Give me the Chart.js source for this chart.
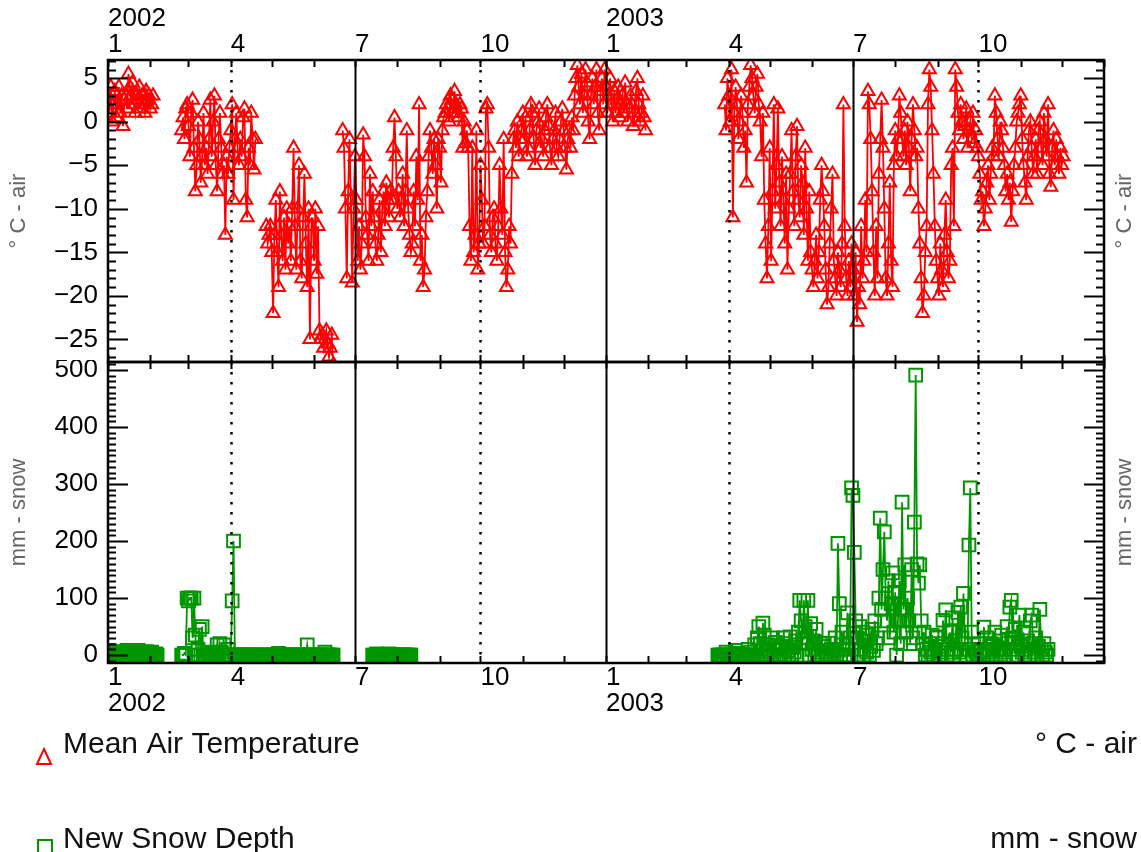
<!DOCTYPE html>
<html>
<head>
<meta charset="utf-8">
<title>Mean Air Temperature / New Snow Depth</title>
<script src="https://cdn.jsdelivr.net/npm/chart.js"></script>
<style>
  body { margin: 0; background: #fff; }
  #wrap { position: relative; width: 1141px; height: 852px; overflow: hidden; }
  canvas { position: absolute; left: 0; }
  #tempChart { top: 0; }
  #snowChart { top: 360px; }
</style>
</head>
<body>
<div id="wrap">
  <canvas id="tempChart" width="1141" height="364"></canvas>
  <canvas id="snowChart" width="1141" height="492"></canvas>
</div>
<script>
// x axis = days since 1 Jan 2002
const monthTicks = [0, 31, 59, 90, 120, 151, 181, 212, 243, 273, 304, 334,
  365, 396, 424, 455, 485, 516, 546, 577, 608, 638, 669, 699, 730];
const yearLabels = ["2002", "2003"];
const tempTicks = [-25, -20, -15, -10, -5, 0, 5];
const snowTicks = [0, 100, 200, 300, 400, 500];

// daily mean air temperature (deg C), one array per run of data
const tempStarts = [0, 54, 116, 172, 452];
const tempSeg1 = [3, 1, 4, 0, 2, 3.5, 0.5, 2, 4, 1, 3, -0.5, 2.5, 3, 1.5, 5.5, 4, 3, 4.5, 2,
  1, 3, 2.5, 4, 1.5, 3, 2, 1, 3.5, 2.5, 3, 1.5, 2, 3];
const tempSeg2 = [-1, 0.5, -2, 1.5, 2, -0.5, -4, 1, 2.5, -3, -8, -5, 0, -2, -7, -4, 1, -5, -3, -6,
  -2, 2.5, -4, 0, 3, -5, -8, -2, 1, -3, -6, -5, -13, -4, -6, -3, -1, 2, -9, -2,
  1, -3, -5, -2, -4, 0.5, 1.5, -9, -11, -3, -5, 1, -2, -5.5, -2];
const tempSeg3 = [-12, -14, -13, -12, -15, -22, -13, -9, -15, -19, -8, -13, -16, -11, -17, -10,
  -14, -12, -16, -10, -3, -12, -17, -10, -5, -16, -18, -11, -6, -14, -19, -10, -25, -12, -11,
  -16, -10, -17.5, -12, -24, -25, -24.5, -26, -25, -24, -25.5, -27, -26, -24.5, -28];
const tempSeg4 = [-1, -3, -10, -18, -8, -2, -9, -18.5, -10, -4,
  -9, -16, -12, -17, -14, -1.5, -4, -11, -13, -16, -6, -12,
  -8, -11, -14, -16, -13, -9, -15, -10, -8, -12, -7, -9, -11, -8,
  -9, -3, 0.5, -4, -10, -8, -11, -9, -6, -12, -8, -1, -10, -13,
  -15, -14, -8, -12, -4, -9, 2, -16, -13, -19, -17, -11,
  -8, -4, -1, -3, -6, -2, -5, -10, -2, -3, -7, -1,
  0.5, 1, 2, 1.5, 0, 3, 2.5, 1, 3.5, 2, 1, 0.5, 2, 1.5, -3, 0, -2.5, -1, -3,
  -12, -16, -3, -15, -13, -1, -17, -14, -5,
  -9, -14, -12, 1.5, 2, -3, -13, -15, -11, -10, -14, -16, -12, -5, -10, -13, -2,
  -15, -19, -17, -12, -14, -6, -2, -1, -3, 0, -4, -2,
  -1, 1, -2, 0.5, -4, -3, -1, 2, 1, -2, -5, -1, 0, 1.5, -3, -2, -4, -1, 0.5, 2,
  -0.5, -3, -5, -2, -1, 1, -3, -4, -2, 0, 1.5, -1, -3, -5.5, -2, -1, -3, 0.5, -1,
  3, 5, 6.5, 4, 2, 5.5, 1, 3, 6, 4.5, 0, -2, 3, 5, 2, 4, 6, 1, -1, 3.5, 5, 2,
  6, 4, 1, 3, 5, 2, 0, 3.5, 1, 2.5, 4, 0.5, 2, 3, 1, 4.5, 2, 0, 1.5, 3,
  2, -0.5, 1, 3.5, 5, 2, 0, 1, 3, 0.5, -1];
const tempSeg5 = [2, -1, 5, 3, 0, 6, -11, 1, 4, 2, -2, 0, 3, 1,
  -3, -1, -7, 2, 4, 6.5, 5, 3, 1, 4, 5.5, 2, 0, -4, 1,
  -9, -14, -18, -12, -3, -16, -8, 2, -10, -5, 1.5, -7, -12, -4, -9, -14, -6, -17,
  -10, -6, -1, -8, -12, -4, -0.5, -9, -11, -5, -7, -13, -3, -10, -16, -8,
  -15, -17, -19, -16, -13, -18, -15, -9, -5, -8, -12, -17, -21, -19, -14, -10, -6, -16, -18, -20, -15, -17, -19,
  -14, 2, -12, -18, -20, -16, -19, -14,
  -17, -20, -15, -23, -19, -21, -12, -18, -16, -9, -15,
  3.5, 2, -2, -8, -15, -20, -12, -18, -6, -2,
  2.5, -3, -10, -18, -20, -14, -7, -16, -19, -5, -1, -4, -2, 3,
  1, -2, -4, -1, -5, 0, -3, -8, -2, 2, -1, -4, -3,
  -10, -14, -18, -22, -20, -15, -12, 2, 6, 4, -1, -6, -12,
  -16, -18, -20, -14, -17, -19, -13, -9, -15, -18, -16, -5, -3, -12, 6, 4,
  1, -1, 2, 0, -2, -0.5, 1.5, -3, -1, 0, -2, 1, -2.5, -1, -3,
  -4, -6, -9, -8, -12, -10, -7, -5, -9, -6, -3, -4,
  3, 1, -2, -4, 0, -1, -3,
  -5, -8, -6, -9, -7, -11.5, -8, -5, -3, 0,
  1, 2, 3, -2, -5, -7, -9, -4, -1, 0, -3, -6,
  -4, -2, -6, -1, 0, -3, -5, 1, -2, -4, 2, -6, -7.5, -3, -1, -5, -2, -4, -6, -3, -5, -4];

// daily new snow depth (mm)
const snowStarts = [0, 54, 114, 194, 447];
const snowSeg1 = [5, 8, 3, 0, 6, 2, 0, 4, 0, 0, 5, 0, 0, 3, 8, 8, 6, 2, 0, 0,
  4, 7, 8, 5, 3, 0, 0, 2, 6, 0, 0, 3, 5, 0, 0, 2, 0];
const snowSeg2 = [0, 0, 3, 0, 100, 95, 100, 100, 30, 100, 35, 0, 10, 45, 0, 50, 0,
  0, 0, 5, 0, 0, 0, 3, 0, 0, 18, 0, 20, 5, 0, 18, 0, 0, 10, 0, 0, 95, 200, 0,
  0, 0, 0, 0, 0, 0, 0, 0, 0, 0, 0, 0, 0, 0, 0, 0, 0];
const snowSeg3 = [0, 0, 0, 0, 0, 0, 0, 0, 0, 0, 0, 3, 0, 0, 0, 0, 0, 0, 0, 0, 0, 0, 0, 0, 0, 0,
  0, 0, 0, 0, 0, 0, 18, 0, 0, 0, 0, 0, 0, 0, 0, 0, 0, 0, 0, 5, 0, 0, 0, 0, 0, 0];
const snowSeg4 = [0, 0, 0, 2, 0, 0, 0, 0, 0, 0, 0, 0, 2, 0, 0, 0, 0, 0, 0, 0, 0, 0, 0, 0, 0, 0, 0, 0, 0];
const snowSeg5 = [0, 0, 0, 0, 0, 0, 5, 0, 0, 0, 0, 0, 0, 8, 3, 0, 0, 0, 0, 0,
  0, 0, 10, 0, 5, 0, 0, 18, 0,
  30, 50, 20, 0, 56, 35, 10, 0, 18, 5, 0, 30, 0, 22, 10, 0, 15, 0,
  15, 30, 0, 20, 8, 0, 32, 0, 14, 5, 25, 0,
  40, 96, 60, 20, 96, 50, 30, 96, 0, 55, 10, 25, 0, 45, 0, 5, 20, 0, 15,
  20, 0, 5, 21, 0, 0, 10, 0, 30, 0,
  196, 90, 0, 40, 10, 0, 20, 74, 0, 30, 293, 280, 180, 60,
  30, 0, 50, 10, 40, 0, 25, 5, 35, 0, 15, 45, 8, 60, 20, 30, 100, 240,
  80, 150, 216, 100, 60, 130, 30, 90, 144, 40, 110, 0, 60, 130, 20, 268, 80, 158, 40, 100,
  60, 20, 150, 30, 233, 491, 160,
  126, 158, 60, 20, 40, 0, 10,
  0, 20, 5, 35, 0, 10, 30, 32, 0, 15, 5, 61, 20, 79, 0, 10, 40, 5, 65, 0,
  25, 10, 75, 5, 84, 30, 108, 20, 0, 10, 193, 293, 40, 0, 10, 5, 0, 20, 0, 8,
  0, 49, 10, 30, 0, 5, 20, 0, 15, 40, 0, 10, 25, 0, 35, 5, 10, 0, 50, 20,
  84, 96, 30, 10, 45, 0, 20, 70, 15, 5, 40, 0, 10, 25, 0, 60, 70, 20, 5, 30,
  0, 15, 80, 10, 0, 20, 5, 0, 10];

const tempColor = "#ff0000";
const snowColor = "#009600";
const fontFamily = "'Liberation Sans', Arial, sans-serif";
Chart.defaults.font.family = fontFamily;

function toPoints(starts, segs) {
  const pts = [];
  segs.forEach((seg, k) => {
    if (k) pts.push({x: starts[k] - 0.5, y: null}); // break the line between runs
    seg.forEach((v, i) => pts.push({x: starts[k] + i, y: v}));
  });
  return pts;
}

function monthLabel(value, bottom) {
  const i = monthTicks.indexOf(value);
  if (i < 0 || i % 3 !== 0 || i === monthTicks.length - 1) return "";
  const m = String(i % 12 + 1);
  if (i % 12 !== 0) return m;
  const yr = yearLabels[i / 12];
  return bottom ? [m, yr] : [yr, m];
}

function line(ctx, x1, y1, x2, y2) {
  ctx.beginPath(); ctx.moveTo(x1, y1); ctx.lineTo(x2, y2); ctx.stroke();
}

// IDL style frame: inward ticks, month lines, right-hand title, legend
const idlFrame = {
  id: "idlFrame",
  afterDatasetsDraw(chart, args, o) {
    const {ctx, chartArea: a} = chart;
    const xs = chart.scales.x, ys = chart.scales.y;
    ctx.save();
    ctx.strokeStyle = "#000";
    monthTicks.forEach((d, i) => {
      const px = Math.round(xs.getPixelForValue(d)) + 0.5;
      const m = i % 12;
      if (i > 0 && i < monthTicks.length - 1) {
        if (m === 0 || m === 6) {
          ctx.lineWidth = 2; ctx.setLineDash([]);
          line(ctx, px, a.top, px, a.bottom);
        } else if (m === 3 || m === 9) {
          ctx.lineWidth = 2.5; ctx.setLineDash([2.5, 7.5]);
          line(ctx, px, a.top, px, a.bottom);
        }
      }
      ctx.lineWidth = 2; ctx.setLineDash([]);
      line(ctx, px, a.top, px, a.top + 7);
      line(ctx, px, a.bottom, px, a.bottom - 7);
    });
    ctx.lineWidth = 2;
    for (let v = Math.ceil(ys.min / o.minor) * o.minor; v <= ys.max; v += o.minor) {
      const py = Math.round(ys.getPixelForValue(v)) + 0.5;
      const len = Math.abs(v % o.major) < 1e-6 ? 20 : 8;
      line(ctx, a.left, py, a.left + len, py);
      line(ctx, a.right, py, a.right - len, py);
    }
    ctx.lineWidth = 2.5;
    ctx.strokeRect(a.left, a.top, a.right - a.left, a.bottom - a.top);

    ctx.fillStyle = "#666";
    ctx.font = "22px " + fontFamily;
    ctx.textAlign = "center"; ctx.textBaseline = "middle";
    ctx.translate(1125, (a.top + a.bottom) / 2);
    ctx.rotate(-Math.PI / 2);
    ctx.fillText(o.title, 0, 0);
    ctx.restore();
  },
  afterDraw(chart, args, o) {
    if (!o.legend) return;
    const ctx = chart.ctx;
    ctx.save();
    o.legend.forEach(it => {
      ctx.strokeStyle = it.color; ctx.lineWidth = 2;
      ctx.beginPath();
      if (it.style === "triangle") {
        ctx.moveTo(44, it.y - 4); ctx.lineTo(51, it.y + 11); ctx.lineTo(37, it.y + 11); ctx.closePath();
      } else {
        ctx.rect(38, it.y - 8, 14, 14);
      }
      ctx.stroke();
      ctx.fillStyle = "#111";
      ctx.font = "30px " + fontFamily;
      ctx.textBaseline = "alphabetic";
      ctx.textAlign = "left"; ctx.fillText(it.label, 63, it.y);
      ctx.textAlign = "right"; ctx.fillText(it.unit, 1137, it.y);
    });
    ctx.restore();
  }
};

function noPad(s) { s.paddingLeft = 0; s.paddingRight = 0; s.paddingTop = 0; s.paddingBottom = 0; }

function xScale(bottom) {
  return {
    type: "linear", position: bottom ? "bottom" : "top", min: 0, max: 730,
    afterBuildTicks: s => { s.ticks = monthTicks.map(v => ({value: v})); },
    afterFit: s => { s.height = 60; noPad(s); },
    grid: {display: false, drawTicks: false}, border: {display: false},
    ticks: {align: "start", padding: 2, autoSkip: false, maxRotation: 0, color: "#000",
      font: {size: 26, lineHeight: 1.0}, callback: v => monthLabel(v, bottom)}
  };
}

function yScale(min, max, ticks, title) {
  return {
    type: "linear", min: min, max: max,
    afterBuildTicks: s => { s.ticks = ticks.map(v => ({value: v})); },
    afterFit: s => { s.width = 108; noPad(s); },
    grid: {display: false, drawTicks: false}, border: {display: false},
    ticks: {padding: 10, color: "#000", font: {size: 26},
      callback: v => String(v).replace("-", "\u2212")},
    title: {display: true, text: title, color: "#666", font: {size: 22}, padding: {top: 6, bottom: 0}}
  };
}

new Chart(document.getElementById("tempChart"), {
  type: "line",
  data: {
    datasets: [{
      label: "Mean Air Temperature",
      data: toPoints(tempStarts, [tempSeg1, tempSeg2, tempSeg3, tempSeg4, tempSeg5]),
      borderColor: tempColor, borderWidth: 1.8,
      pointStyle: "triangle", pointRadius: 7.5, pointBorderWidth: 2,
      pointBorderColor: tempColor, pointBackgroundColor: "rgba(0,0,0,0)",
      spanGaps: false, tension: 0
    }]
  },
  options: {
    responsive: false, animation: false, events: [],
    layout: {padding: {left: 0, right: 37, top: 0, bottom: 2}, autoPadding: false},
    scales: {
      x: xScale(false),
      y: yScale(-27.6, 7.1, tempTicks, "\u00b0 C - air")
    },
    plugins: {
      legend: {display: false}, tooltip: {enabled: false},
      idlFrame: {minor: 1, major: 5, title: "\u00b0 C - air"}
    }
  },
  plugins: [idlFrame]
});

new Chart(document.getElementById("snowChart"), {
  type: "line",
  data: {
    datasets: [{
      label: "New Snow Depth",
      data: toPoints(snowStarts, [snowSeg1, snowSeg2, snowSeg3, snowSeg4, snowSeg5]),
      borderColor: snowColor, borderWidth: 1.8,
      pointStyle: "rect", pointRadius: 9, pointBorderWidth: 2,
      pointBorderColor: snowColor, pointBackgroundColor: "rgba(0,0,0,0)",
      spanGaps: false, tension: 0
    }]
  },
  options: {
    responsive: false, animation: false, events: [],
    layout: {padding: {left: 0, right: 37, top: 2, bottom: 129}, autoPadding: false},
    scales: {
      x: xScale(true),
      y: yScale(-14, 514, snowTicks, "mm - snow")
    },
    plugins: {
      legend: {display: false}, tooltip: {enabled: false},
      idlFrame: {
        minor: 10, major: 100, title: "mm - snow",
        legend: [
          {label: "Mean Air Temperature", unit: "\u00b0 C - air", color: tempColor, style: "triangle", y: 393},
          {label: "New Snow Depth", unit: "mm - snow", color: snowColor, style: "rect", y: 488}
        ]
      }
    }
  },
  plugins: [idlFrame]
});
</script>
</body>
</html>
